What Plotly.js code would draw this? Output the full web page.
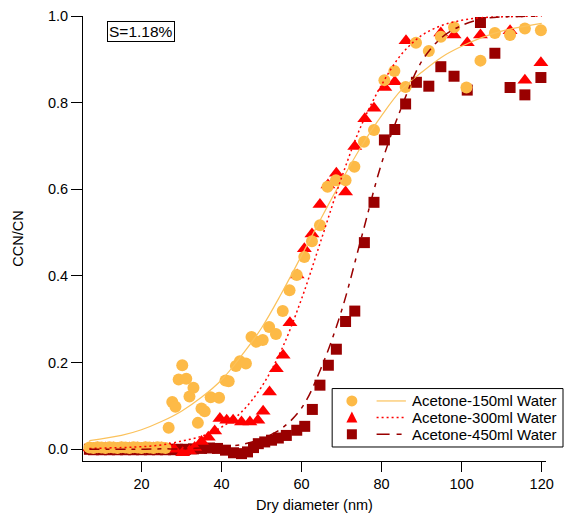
<!DOCTYPE html>
<html><head><meta charset="utf-8">
<script src="https://cdn.plot.ly/plotly-3.0.1.min.js"></script>
<style>html,body{margin:0;padding:0;background:#fff}#chart{width:564px;height:521px}</style>
</head><body><div id="chart"></div>
<script>
// ---- Data ----
const seriesNames = ["Acetone-150ml Water", "Acetone-300ml Water", "Acetone-450ml Water"];
const annotationText = "S=1.18%";

// Acetone-150ml Water (circles)
const x150 = [7, 8, 9, 10, 11, 12, 13, 14, 15, 16, 17, 18, 19, 20, 21, 22, 23, 24, 25, 26, 26.8, 27.7, 28.5, 29.3, 30.2, 31.2, 32.0, 33.0, 34.1, 35.0, 35.8, 37.3, 39.4, 41.0, 41.8, 43.6, 44.6, 46.1, 47.5, 48.7, 50.3, 51.9, 53.6, 55.3, 57.0, 58.8, 60.7, 62.6, 64.6, 66.5, 68.6, 71.0, 73.2, 75.6, 78.1, 80.7, 83.2, 86.0, 88.6, 91.8, 94.8, 98.1, 101.2, 104.7, 108.3, 112.1, 115.8, 119.8];
const y150 = [0.004, 0.003, 0.005, 0.004, 0.003, 0.005, 0.004, 0.003, 0.005, 0.004, 0.003, 0.005, 0.004, 0.003, 0.005, 0.004, 0.003, 0.005, 0.004, 0.003, 0.050, 0.109, 0.098, 0.161, 0.194, 0.163, 0.122, 0.142, 0.061, 0.094, 0.088, 0.120, 0.119, 0.159, 0.157, 0.192, 0.203, 0.198, 0.259, 0.248, 0.252, 0.282, 0.266, 0.319, 0.367, 0.402, 0.444, 0.480, 0.517, 0.606, 0.621, 0.621, 0.652, 0.710, 0.737, 0.852, 0.873, 0.836, 0.938, 0.919, 0.952, 0.974, 0.835, 0.897, 0.961, 0.956, 0.971, 0.967];

// Acetone-300ml Water (triangles)
const x300 = [7, 8, 9, 10, 11, 12, 13, 14, 15, 16, 17, 18, 19, 20, 21, 22, 23, 24, 25, 26, 27, 28.2, 30.3, 32.0, 33.3, 35.0, 36.7, 38.3, 39.6, 41.3, 42.9, 45.0, 47.1, 49.1, 50.4, 52.0, 53.7, 55.4, 57.1, 58.9, 60.7, 62.6, 64.6, 66.6, 68.7, 71.0, 73.3, 75.8, 78.1, 80.8, 83.3, 86.1, 94.8, 98.1, 101.4, 104.7, 112.1, 115.8, 119.8];
const y300 = [0.003, 0.002, 0.003, 0.002, 0.003, 0.002, 0.003, 0.002, 0.003, 0.002, 0.003, 0.002, 0.003, 0.002, 0.003, 0.002, 0.003, 0.002, 0.003, 0.002, 0.002, 0.000, -0.008, -0.004, 0.004, 0.018, 0.028, 0.042, 0.071, 0.067, 0.067, 0.063, 0.063, 0.067, 0.088, 0.132, 0.186, 0.217, 0.292, 0.402, 0.463, 0.497, 0.565, 0.610, 0.637, 0.594, 0.699, 0.763, 0.787, 0.835, 0.848, 0.943, 0.961, 0.956, 0.938, 0.956, 0.966, 0.852, 0.892];

// Acetone-450ml Water (squares)
const x450 = [7, 8, 9, 10, 11, 12, 13, 14, 15, 16, 17, 18, 19, 20, 21, 22, 23, 24, 25, 26, 27, 28, 29, 30, 31, 33, 35, 37, 39, 41, 43, 45, 46.5, 48, 49.2, 50.8, 52.5, 54.2, 56.2, 58.8, 60.8, 62.7, 64.6, 66.7, 68.7, 71.0, 73.3, 75.7, 78.1, 80.7, 83.3, 86.0, 88.7, 91.8, 94.8, 98.1, 101.4, 104.7, 108.3, 112.1, 115.8, 119.8];
const y450 = [0.000, -0.001, 0.000, -0.001, 0.000, -0.001, 0.000, -0.001, 0.000, -0.001, 0.000, -0.001, 0.000, -0.001, 0.000, -0.001, 0.000, -0.001, 0.000, -0.001, 0.000, -0.001, 0.000, -0.001, 0.000, 0.001, 0.002, 0.003, 0.002, -0.002, -0.008, -0.010, -0.006, 0.004, 0.013, 0.017, 0.021, 0.026, 0.032, 0.044, 0.053, 0.092, 0.148, 0.194, 0.231, 0.295, 0.319, 0.477, 0.570, 0.714, 0.738, 0.797, 0.847, 0.838, 0.883, 0.861, 0.829, 0.985, 0.914, 0.835, 0.818, 0.858];

// Fit curves
const fitX = [7, 15, 20, 25, 30, 35, 40, 45, 50, 55, 60, 65, 70, 75, 80, 85, 90, 95, 100, 105, 110, 115, 120];
const fit150 = [0.020, 0.032, 0.045, 0.064, 0.088, 0.120, 0.160, 0.216, 0.280, 0.360, 0.447, 0.535, 0.620, 0.700, 0.770, 0.830, 0.870, 0.905, 0.930, 0.950, 0.965, 0.975, 0.983];
const fit300 = [0.002, 0.004, 0.006, 0.010, 0.019, 0.030, 0.051, 0.086, 0.144, 0.230, 0.347, 0.486, 0.627, 0.749, 0.841, 0.912, 0.955, 0.978, 0.990, 0.996, 0.998, 0.999, 1.000];
const fit450 = [0.000, 0.000, 0.000, 0.001, 0.001, 0.003, 0.006, 0.011, 0.024, 0.048, 0.095, 0.190, 0.320, 0.490, 0.660, 0.790, 0.895, 0.950, 0.978, 0.993, 0.998, 0.999, 1.000];

const cOrange = "#FDBA47", cOrangeLine = "#FBC25C", cRed = "#FF0000", cDark = "#990000";
const FONT = "Liberation Sans, Arial, sans-serif";

const traces = [
  {x: x450, y: y450, mode: "markers", type: "scatter", cliponaxis: false, showlegend: false,
   marker: {symbol: "square", size: 11, color: cDark, line: {width: 0}}},
  {x: x300, y: y300, mode: "markers", type: "scatter", cliponaxis: false, showlegend: false,
   marker: {symbol: "triangle-up", size: 13, color: cRed, line: {width: 0}}},
  {x: x150, y: y150, mode: "markers", type: "scatter", cliponaxis: false, showlegend: false,
   marker: {symbol: "circle", size: 12, color: cOrange, line: {width: 0}}},
  {x: fitX, y: fit150, mode: "lines", type: "scatter", showlegend: false, cliponaxis: false,
   line: {color: cOrangeLine, width: 1.2, shape: "spline"}},
  {x: fitX, y: fit300, mode: "lines", type: "scatter", showlegend: false, cliponaxis: false,
   line: {color: cRed, width: 1.5, dash: "2px,3px", shape: "spline"}},
  {x: fitX, y: fit450, mode: "lines", type: "scatter", showlegend: false, cliponaxis: false,
   line: {color: cDark, width: 1.5, dash: "10px,6px,4px,6px", shape: "spline"}}
];

// pixel -> paper helpers for the hand-drawn legend
const L = 83.3, R = 546, T = 16, B = 460.7;
const PX = p => (p - L) / (R - L);
const PY = p => (B - p) / (B - T);

const rows = [400.7, 417.3, 434];
const shapes = [
  {type: "rect", xref: "paper", yref: "paper", x0: PX(332.3), x1: PX(563), y0: PY(446.7), y1: PY(388.3),
   line: {color: "#000", width: 1}, fillcolor: "#fff", layer: "above"},
  {type: "circle", xref: "paper", yref: "paper", x0: PX(346.5), x1: PX(357.5), y0: PY(rows[0] + 5.5), y1: PY(rows[0] - 5.5),
   fillcolor: cOrange, line: {width: 0}, layer: "above"},
  {type: "path", xref: "paper", yref: "paper",
   path: `M ${PX(346.5)} ${PY(rows[1] + 5)} L ${PX(357.5)} ${PY(rows[1] + 5)} L ${PX(352)} ${PY(rows[1] - 6)} Z`,
   fillcolor: cRed, line: {width: 0}, layer: "above"},
  {type: "rect", xref: "paper", yref: "paper", x0: PX(347), x1: PX(357), y0: PY(rows[2] + 5), y1: PY(rows[2] - 5),
   fillcolor: cDark, line: {width: 0}, layer: "above"},
  {type: "line", xref: "paper", yref: "paper", x0: PX(376.7), x1: PX(406), y0: PY(rows[0]), y1: PY(rows[0]),
   line: {color: cOrangeLine, width: 1.2}, layer: "above"},
  {type: "line", xref: "paper", yref: "paper", x0: PX(376.7), x1: PX(406), y0: PY(rows[1]), y1: PY(rows[1]),
   line: {color: cRed, width: 1.5, dash: "2px,3px"}, layer: "above"},
  {type: "line", xref: "paper", yref: "paper", x0: PX(376.7), x1: PX(406), y0: PY(rows[2]), y1: PY(rows[2]),
   line: {color: cDark, width: 1.5, dash: "13px,7px,5px,7px"}, layer: "above"}
];

const annotations = seriesNames.map((n, i) => ({
  text: n, xref: "paper", yref: "paper", x: PX(410.5), y: PY(rows[i]), xanchor: "left", yanchor: "middle",
  showarrow: false, font: {family: FONT, size: 15, color: "#000"}
}));
annotations.push({
  text: annotationText, xref: "paper", yref: "paper", x: PX(107.3), y: PY(20.7), xanchor: "left", yanchor: "top",
  showarrow: false, bordercolor: "#000", borderwidth: 1, borderpad: 1, bgcolor: "#fff",
  font: {family: FONT, size: 15.5, color: "#000"}
});

const layout = {
  width: 564, height: 521,
  margin: {l: L, r: 564 - R, t: T, b: 521 - B},
  paper_bgcolor: "#fff", plot_bgcolor: "#fff",
  showlegend: false,
  font: {family: FONT, size: 14.5, color: "#000"},
  xaxis: {
    range: [(L - 61.7) / 4, (R - 61.7) / 4], tickmode: "array", tickvals: [20, 40, 60, 80, 100, 120],
    ticks: "outside", ticklen: 10, tickwidth: 1, tickcolor: "#000",
    showline: true, linecolor: "#000", linewidth: 1, showgrid: false, zeroline: false,
    tickfont: {family: FONT, size: 14.5},
    title: {text: "Dry diameter (nm)", font: {family: FONT, size: 14.5}, standoff: 8}, automargin: false
  },
  yaxis: {
    range: [-0.027, 1.0], tickmode: "array", tickvals: [0, 0.2, 0.4, 0.6, 0.8, 1.0],
    ticktext: ["0.0", "0.2", "0.4", "0.6", "0.8", "1.0"],
    ticks: "outside", ticklen: 11, tickwidth: 1, tickcolor: "#000",
    showline: true, linecolor: "#000", linewidth: 1, showgrid: false, zeroline: false,
    tickfont: {family: FONT, size: 14.5},
    title: {text: "CCN/CN", font: {family: FONT, size: 14.5}, standoff: 20}, automargin: false
  },
  shapes: shapes,
  annotations: annotations
};

Plotly.newPlot("chart", traces, layout, {staticPlot: true, displayModeBar: false});
</script>
</body></html>
